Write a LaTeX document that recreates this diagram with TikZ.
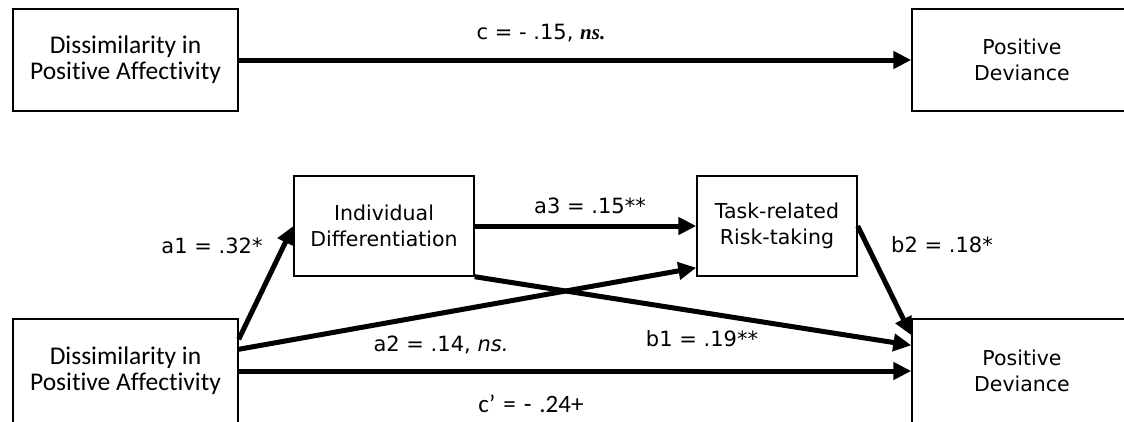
\documentclass[tikz,border=0pt]{standalone}
\usepackage{fontspec}
\setmainfont{DejaVu Sans}
\newfontfamily\calfont[Ligatures=NoCommon]{Carlito}
\newfontfamily\tnrfont{Liberation Serif}
\usetikzlibrary{arrows.meta,calc}
\newcommand\labfont{\fontsize{21}{24}\selectfont}
\newcommand\cplabfont{\calfont\fontsize{25}{26}\selectfont\spaceskip=0.32em\relax}
\begin{document}
\begin{tikzpicture}[x=1pt,y=-1pt,
  box/.style={draw, line width=1.4pt, align=center, inner sep=0pt,
    font=\fontsize{20.5}{26}\selectfont},
  calbox/.style={box, font=\calfont\fontsize{25.5}{26}\selectfont},
  arr/.style={line width=5pt, -{Triangle[length=18pt,width=17pt]}},
  lab/.style={font=\labfont, inner sep=0pt}]
\useasboundingbox (0,0) rectangle (1124,421);
\begin{scope}
\clip (0,0) rectangle (1124,421);
% top model
\node[calbox, minimum width=225pt, minimum height=102pt] (tl) at (125.5,60) {Dissimilarity in\\Positive Affectivity};
\node[box, minimum width=220pt, minimum height=102pt] (tr) at (1022,60) {Positive\\Deviance};
% bottom model
\node[calbox, minimum width=225pt, minimum height=104pt] (bl) at (125.5,371) {Dissimilarity in\\Positive Affectivity};
\node[box, minimum width=220pt, minimum height=104pt] (br) at (1022,371) {Positive\\Deviance};
\node[box, minimum width=180pt, minimum height=100pt] (id) at (384,226) {Individual\\Differentiation};
\node[box, minimum width=160pt, minimum height=100pt] (tk) at (777,226) {Task-related\\Risk-taking};
\end{scope}
% connectors
\draw[arr] (tl.east) -- (tr.west);
\draw[arr] ($(bl.north east)+(0,21)$) -- (id.west);
\draw[arr] (id.east) -- (tk.west);
\draw[arr] ($(bl.north east)+(0,31)$) -- ($(tk.south west)+(0,-9)$);
\draw[arr] (id.south east) -- ($(br.north west)+(0,27)$);
\draw[arr] (tk.east) -- ($(br.north west)+(0,17)$);
\draw[arr] (bl.east) -- (br.west);
% labels
\node[lab] (lc) at (541,33) {c = - .15, {\tnrfont\bfseries\itshape ns.}};
\node[lab] (la1) at (212,246) {a1 = .32*};
\node[lab] (la3) at (590,206) {a3 = .15**};
\node[lab] (lb2) at (942,245) {b2 = .18*};
\node[lab] (la2) at (441,345) {a2 = .14, \textit{ns.}};
\node[lab] (lb1) at (702,339) {b1 = .19**};
\node[lab, font=\cplabfont] (lcp) at (531,404) {c’ = - .24+};
\end{tikzpicture}
\end{document}
